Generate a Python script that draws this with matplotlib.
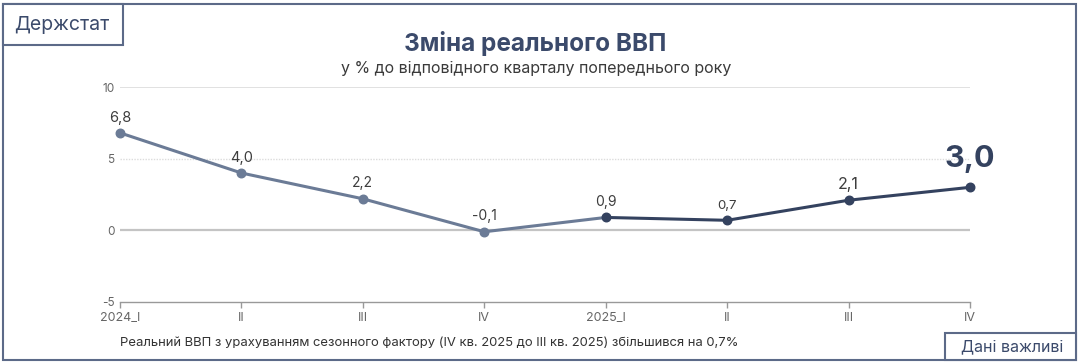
import matplotlib
matplotlib.use("Agg")
import matplotlib.pyplot as plt
from matplotlib.patches import Rectangle

# data
quarters = ["2024_I", "II", "III", "IV", "2025_I", "II", "III", "IV"]
gdp_change = [6.8, 4.0, 2.2, -0.1, 0.9, 0.7, 2.1, 3.0]
point_labels = ["6,8", "4,0", "2,2", "-0,1", "0,9", "0,7", "2,1", "3,0"]
label_sizes = [10.5, 10.5, 10, 10, 10, 9.5, 11.5, 22]
y_ticks = [-5, 0, 5, 10]

INK = "#3b4a6b"
LIGHT = "#6b7b96"
DARK = "#34425f"
GRID = "#dcdcdc"
W, H = 1080, 364

plt.rcParams["font.family"] = ["Inter", "DejaVu Sans"]

fig = plt.figure(figsize=(W / 100, H / 100), dpi=100)
fig.patch.set_facecolor("white")


def px(x0, y0, x1, y1):
    # pixel box (top-left origin) -> axes rect in figure fractions
    return [x0 / W, 1 - y1 / H, (x1 - x0) / W, (y1 - y0) / H]


ax = fig.add_axes(px(120, 87, 970, 302))
x = list(range(len(quarters)))

# grid
ax.axhline(10, color=GRID, lw=1.2, zorder=1)
ax.axhline(5, color=GRID, lw=1.0, ls=(0, (1, 1)), zorder=1)
ax.axhline(0, color="#c4c4c4", lw=1.6, zorder=1)

# line: 2024 lighter, 2025 darker
ax.plot(x[:5], gdp_change[:5], color=LIGHT, lw=2.2, zorder=3, solid_capstyle="round")
ax.plot(x[4:], gdp_change[4:], color=DARK, lw=2.2, zorder=3, solid_capstyle="round")
ax.scatter(x[:4], gdp_change[:4], s=38, color=LIGHT, zorder=4, clip_on=False)
ax.scatter(x[4:], gdp_change[4:], s=38, color=DARK, zorder=4, clip_on=False)

for i, (v, lab, fs) in enumerate(zip(gdp_change, point_labels, label_sizes)):
    bold = fs > 15
    ax.annotate(lab, (i, v), xytext=(0, 10 if bold else 6), textcoords="offset points",
                ha="center", va="bottom", fontsize=fs, color=DARK if bold else "#3d3d3d",
                fontweight="bold" if bold else "normal")

ax.set_xlim(0, 7)
ax.set_ylim(-5, 10)
ax.set_xticks(x)
ax.set_xticklabels(quarters, fontsize=9, color="#666666")
ax.set_yticks(y_ticks)
ax.set_yticklabels([str(t) for t in y_ticks], fontsize=8.5, color="#666666")
ax.tick_params(axis="x", length=4, width=1, color="#999999", pad=3)
ax.tick_params(axis="y", length=0, pad=4)
for s in ("top", "right", "left"):
    ax.spines[s].set_visible(False)
ax.spines["bottom"].set_color("#999999")
ax.spines["bottom"].set_linewidth(1)
ax.set_facecolor("none")

# frames
BORDER = "#5c6a88"
fig.add_artist(Rectangle((3 / W, 1 - 360 / H), (1076 - 3) / W, (360 - 4) / H,
                         transform=fig.transFigure, fill=False, ec=BORDER, lw=1.5))
fig.add_artist(Rectangle((3 / W, 1 - 45 / H), 120 / W, 41 / H,
                         transform=fig.transFigure, fc="white", ec=BORDER, lw=1.5))
fig.add_artist(Rectangle((945 / W, 1 - 360 / H), 131 / W, 27 / H,
                         transform=fig.transFigure, fc="white", ec=BORDER, lw=1.5))

# texts
fig.text(62 / W, 1 - 25 / H, "Держстат", fontsize=14, color=INK, ha="center", va="center")
fig.text(1012 / W, 1 - 347 / H, "Дані важливі", fontsize=11.5, color=INK, ha="center", va="center")
fig.text(535 / W, 1 - 44 / H, "Зміна реального ВВП", fontsize=17.5, fontweight="bold",
         color=INK, ha="center", va="center")
fig.text(536 / W, 1 - 69 / H, "у % до відповідного кварталу попереднього року",
         fontsize=11.5, color="#3a3a3a", ha="center", va="center")
fig.text(120 / W, 1 - 343 / H,
         "Реальний ВВП з урахуванням сезонного фактору (IV кв. 2025 до III кв. 2025) збільшився на 0,7%",
         fontsize=9.4, color="#333333", ha="left", va="center")

fig.savefig("out.png", dpi=100)
